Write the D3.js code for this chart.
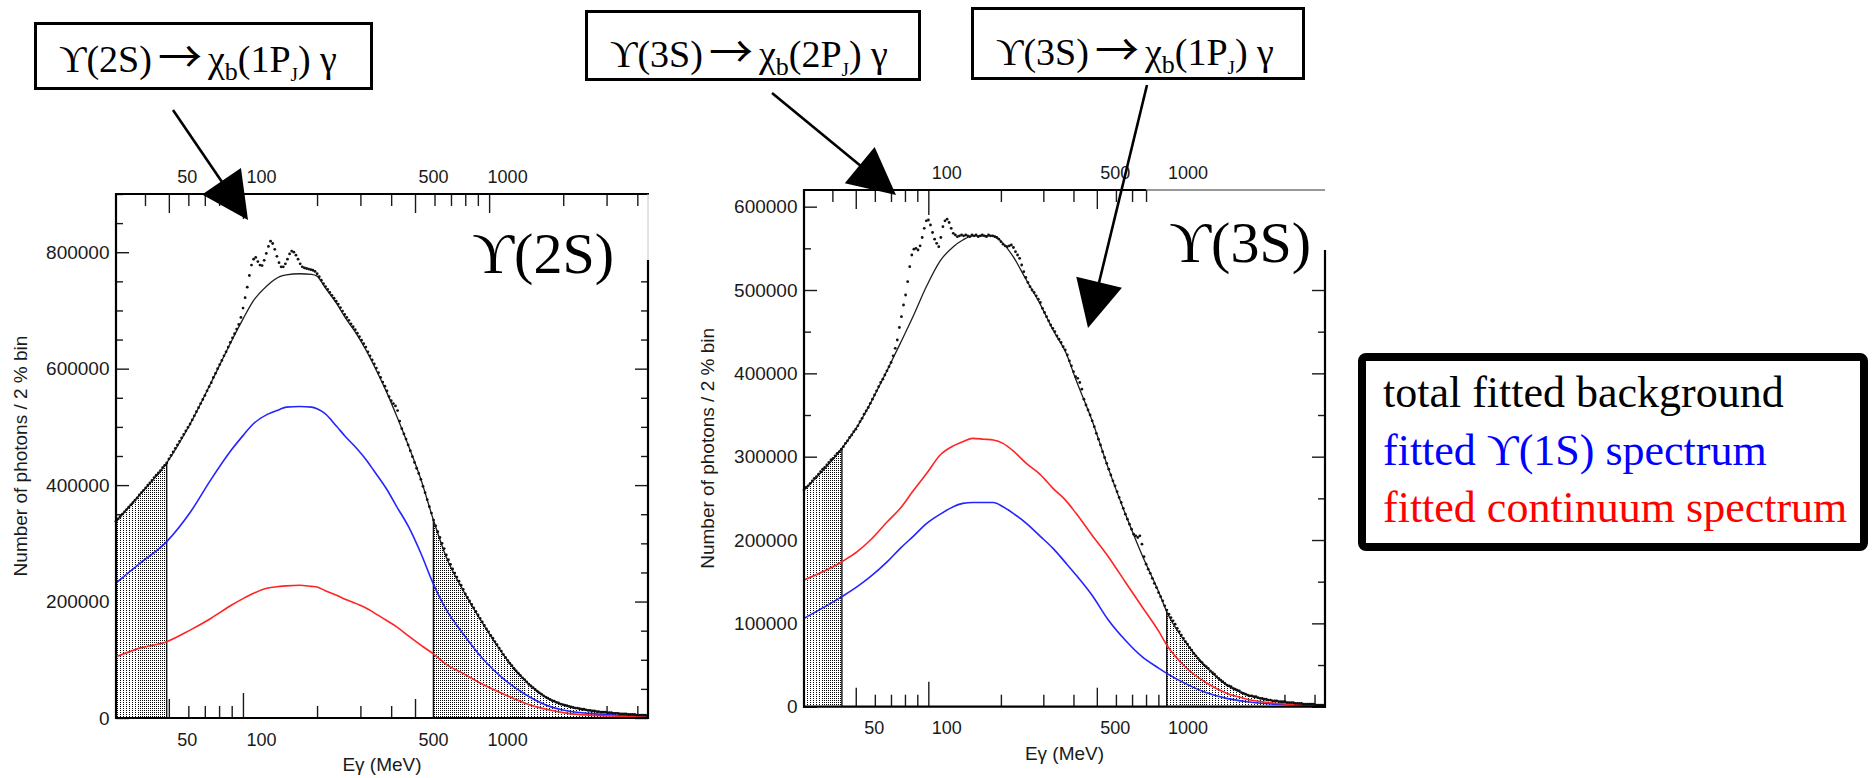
<!DOCTYPE html>
<html>
<head>
<meta charset="utf-8">
<title>Inclusive photon spectra</title>
<script src="https://cdn.jsdelivr.net/npm/d3@7/dist/d3.min.js"></script>
<style>
  html, body { margin: 0; padding: 0; background: #fff; }
  svg { display: block; }
</style>
</head>
<body>
<svg id="chart" width="1872" height="778"></svg>
<script>
// Photon energies in MeV; counts in thousands of photons per 2 % bin.

// ---- ϒ(2S) panel: fitted background components ----
const energy2S = [30.5, 38, 49, 61, 74, 90, 100, 110, 125, 141, 150, 170, 190, 200, 215, 240, 260, 290, 316, 340,
                  385, 420, 470, 528, 594, 670, 780, 950, 1160, 1410, 1710, 2090, 2540, 3090, 3700, 4420];
const total2S  = [338, 383, 438, 505, 575, 648, 685, 716, 742, 758, 761, 763, 762, 759, 740, 712, 688, 659, 632, 606,
                  558, 520, 468, 410, 340, 276, 221, 160, 105, 63, 35, 20, 13, 9, 6.5, 4.5];
const ups1S2S  = [232, 265, 303, 353, 409, 461, 485, 505, 521, 530, 534, 535, 534, 531, 523, 501, 484, 463, 444, 425,
                  392, 364, 329, 283, 230, 186, 146, 100, 65, 40, 22, 12, 8, 5.5, 4, 3];
const cont2S   = [105, 120, 131, 151, 171, 194, 205, 214, 223, 226, 227, 228, 226, 225, 219, 211, 204, 196, 189, 181,
                  167, 157, 141, 125, 110, 92, 77, 57, 40, 25, 15, 8, 5, 3.4, 2.2, 1.2];
// measured spectrum, one value per 2 % bin
const data2S = [
  338, 342, 346, 350, 354, 358, 362, 366, 370, 374,
  378, 383, 387, 391, 395, 400, 404, 408, 413, 417,
  421, 425, 430, 434, 438, 445, 451, 457, 463, 469,
  475, 481, 487, 493, 499, 505, 512, 519, 526, 533,
  540, 547, 554, 562, 569, 576, 585, 592, 600, 607,
  614, 622, 629, 637, 645, 653, 660, 668, 676, 688,
  704, 722, 740, 760, 778, 788, 791, 784, 778, 777,
  786, 798, 810, 819, 815, 805, 793, 782, 775, 775,
  780, 788, 797, 802, 800, 795, 788, 780, 775, 773,
  772, 771, 770, 769, 767, 763, 758, 752, 746, 741,
  736, 731, 726, 721, 716, 711, 705, 699, 693, 688,
  683, 677, 672, 667, 661, 655, 649, 643, 637, 629,
  622, 615, 608, 601, 593, 585, 577, 570, 562, 552,
  545, 540, 536, 528, 510, 497, 488, 479, 469, 459,
  449, 439, 429, 420, 410, 398, 387, 375, 363, 352,
  340, 330, 320, 310, 300, 291, 280, 272, 264, 256,
  249, 242, 235, 228, 221, 213, 207, 201, 195, 189,
  183, 177, 171, 165, 159, 153, 148, 142, 137, 131,
  126, 120, 115, 109, 104, 99, 94, 90, 85, 81,
  77, 73, 69, 66, 62, 58, 55, 52, 49, 46,
  43, 41, 38, 36, 34, 32, 30, 29, 27, 26,
  24, 23, 22, 21, 20, 19, 18, 17, 17, 16,
  15, 15, 14, 13, 13, 12, 12, 11, 11, 10,
  10, 10, 9, 9, 9, 8, 8, 8, 7, 7,
  7, 7, 6, 6, 6, 6, 5, 5, 5, 5,
  5, 4
];
const shade2S      = [[30.5, 49], [594, 4420]];
const denseShade2S = [[37.8, 49], [594, 817], [1205, 1410]];

// ---- ϒ(3S) panel ----
const energy3S = [30.5, 43.8, 50.7, 57.5, 67.6, 76.5, 87, 98.5, 112, 127, 139, 153, 170, 186, 204, 225, 255, 290, 329, 373,
                  410, 477, 558, 655, 770, 905, 975, 1162, 1417, 1727, 2106, 2567, 3128, 3700, 4420];
const total3S  = [260, 310, 336, 364, 404, 436, 470, 505, 535, 552, 560, 565, 565, 565, 556, 540, 512, 484, 452, 424,
                  392, 344, 286, 232, 182, 137, 114, 78, 48, 26, 14, 8, 5, 3, 2];
const ups1S3S  = [106, 132, 144, 156, 174, 190, 205, 220, 231, 240, 244, 245, 245, 245, 240, 232, 220, 205, 190, 172,
                  158, 134, 104, 80, 60, 46, 40, 28, 17, 10, 6, 3.5, 2.5, 1.8, 1.2];
const cont3S   = [152, 174, 186, 200, 222, 238, 260, 280, 302, 313, 318, 322, 321, 320, 316, 307, 292, 279, 262, 247,
                  232, 206, 180, 150, 120, 90, 74, 48, 29, 16, 9, 5, 3, 2, 1.5];
const data3S = [
  260, 263, 265, 268, 271, 274, 276, 279, 282, 285,
  287, 290, 293, 296, 298, 301, 304, 306, 309, 312,
  316, 319, 323, 326, 330, 333, 337, 342, 346, 351,
  355, 359, 364, 369, 374, 379, 384, 389, 393, 398,
  403, 408, 413, 421, 430, 440, 455, 468, 482, 494,
  510, 528, 542, 549, 550, 548, 553, 563, 574, 583,
  584, 578, 569, 561, 556, 552, 563, 576, 583, 585,
  581, 574, 568, 566, 564, 565, 566, 565, 566, 565,
  564, 566, 565, 566, 564, 565, 566, 565, 564, 566,
  565, 565, 564, 563, 561, 558, 555, 553, 552, 553,
  554, 551, 546, 542, 538, 530, 522, 515, 509, 504,
  500, 497, 493, 489, 485, 478, 473, 468, 463, 458,
  454, 450, 445, 441, 437, 432, 428, 422, 415, 409,
  402, 396, 394, 389, 381, 369, 362, 356, 350, 343,
  336, 328, 321, 314, 306, 299, 292, 285, 278, 271,
  265, 258, 251, 245, 238, 231, 225, 219, 213, 207,
  205, 203, 205, 195, 180, 171, 165, 160, 154, 148,
  143, 137, 132, 127, 121, 116, 111, 107, 103, 99,
  94, 90, 86, 82, 78, 75, 71, 68, 64, 61,
  58, 55, 53, 50, 48, 46, 43, 41, 39, 36,
  34, 32, 30, 28, 26, 25, 24, 22, 21, 20,
  19, 17, 16, 15, 14, 13, 13, 12, 12, 11,
  10, 10, 9, 9, 8, 8, 7, 7, 7, 6,
  6, 6, 6, 5, 5, 5, 5, 4, 4, 4,
  4, 3, 3, 3, 3, 3, 3, 2, 2, 2,
  2, 2
];
const shade3S      = [[30.5, 43.8], [975, 4420]];
const denseShade3S = [[36.6, 43.8], [1100, 1415]];

// ---- binning and axes ----
const firstBinE   = 30.5;   // MeV, centre of the first 2 % bin
const binRatio    = 1.02;
const energyRange = [30.5, 4420];
const xTickValues  = [40, 50, 60, 70, 80, 90, 100, 200, 300, 400, 500, 600, 700, 800, 900, 1000, 2000, 3000, 4000];
const xLabelValues = [50, 100, 500, 1000];
const legendItems  = ["total fitted background", "fitted ϒ(1S) spectrum", "fitted continuum spectrum"];
const legendColors = ["#000000", "#0000ff", "#ff0000"];

const K = 1000;
const sans  = "'Liberation Sans', Arial, Helvetica, sans-serif";
const serif = "'Liberation Serif', 'Times New Roman', 'DejaVu Serif', serif";
const svg  = d3.select("#chart");
const defs = svg.append("defs");

function stipple(id, w, h) {
  const pat = defs.append("pattern").attr("id", id)
    .attr("patternUnits", "userSpaceOnUse").attr("width", w).attr("height", h);
  pat.append("rect").attr("width", w).attr("height", h).attr("fill", "#fff");
  pat.append("rect").attr("width", 1).attr("height", 1).attr("fill", "#000");
}
stipple("stipple-sparse", 3, 2);
stipple("stipple-dense", 2, 2);

const tickLength = e => e === 100 ? 25 : (e === 50 || e === 500 || e === 1000) ? 19 : 12;

function drawPanel(p) {
  const x = d3.scaleLog().domain(energyRange).range([p.x0, p.x1]);
  const y = d3.scaleLinear().domain([0, p.yMax]).range([p.y1, p.y0]);
  const g = svg.append("g");
  const pts = vals => p.energy.map((e, i) => [e, vals[i] * K]);
  const line = d3.line().x(d => x(d[0])).y(d => y(d[1])).curve(d3.curveMonotoneX);
  const area = d3.area().x(d => x(d[0])).y0(y(0)).y1(d => y(d[1])).curve(d3.curveMonotoneX);
  const labelText = d => xLabelValues.includes(d) ? d : "";

  // bottom axis: ticks point inwards, labels sit right of their ticks
  const bottom = g.append("g").attr("transform", `translate(0,${p.y1})`)
    .call(d3.axisBottom(x).tickValues(xTickValues).tickSizeOuter(0).tickFormat(labelText));
  bottom.select(".domain").remove();
  bottom.attr("font-family", sans).attr("font-size", 18).style("color", "#1a1a1a");
  bottom.selectAll(".tick line").attr("y2", d => -tickLength(d)).attr("stroke-width", 1.4);
  bottom.selectAll(".tick text").attr("y", 27.5).attr("dy", null).attr("dx", 18);

  // top axis
  const top = g.append("g").attr("transform", `translate(0,${p.y0})`)
    .call(d3.axisTop(x).tickValues(xTickValues).tickSizeOuter(0).tickFormat(labelText));
  top.select(".domain").remove();
  top.attr("font-family", sans).attr("font-size", 18).style("color", "#1a1a1a");
  top.selectAll(".tick line").attr("y2", d => d <= p.topTickMax ? tickLength(d) : 0).attr("stroke-width", 1.4);
  top.selectAll(".tick text").attr("y", -11).attr("dx", 18);

  // left and right axes
  const yTicks = d3.range(0, p.yMax + 1, 50000);
  const isMajor = v => v % p.yLabelStep === 0;
  const left = g.append("g").attr("transform", `translate(${p.x0},0)`)
    .call(d3.axisLeft(y).tickValues(yTicks).tickSizeOuter(0).tickFormat(v => isMajor(v) ? d3.format("d")(v) : ""));
  left.select(".domain").remove();
  left.attr("font-family", sans).attr("font-size", 19).style("color", "#1a1a1a");
  left.selectAll(".tick line").attr("x2", v => isMajor(v) ? 13 : 7).attr("stroke-width", 1.4);
  left.selectAll(".tick text").attr("x", -6.5);

  const right = g.append("g").attr("transform", `translate(${p.x1},0)`)
    .call(d3.axisRight(y).tickValues(yTicks.filter(v => y(v) > p.rightTop + 1)).tickSizeOuter(0).tickFormat(""));
  right.select(".domain").remove();
  right.style("color", "#1a1a1a");
  right.selectAll(".tick line").attr("x2", v => isMajor(v) ? -13 : -7).attr("stroke-width", 1.4);

  // stippled side-band regions under the fitted background
  const clipId = "under-" + p.id;
  defs.append("clipPath").attr("id", clipId).append("path").attr("d", area(pts(p.total)));
  const shade = g.append("g").attr("clip-path", `url(#${clipId})`);
  const band = (a, b, fill) => shade.append("rect")
    .attr("x", x(a)).attr("y", p.y0).attr("width", x(b) - x(a)).attr("height", p.y1 - p.y0).attr("fill", fill);
  p.shade.forEach(([a, b]) => band(a, b, "url(#stipple-sparse)"));
  p.dense.forEach(([a, b]) => band(a, b, "url(#stipple-dense)"));
  p.shade.forEach(([a, b]) => [a, b].forEach(e => {
    if (e > energyRange[0] && e < energyRange[1]) {
      shade.append("line").attr("x1", x(e)).attr("x2", x(e)).attr("y1", p.y0).attr("y2", p.y1)
        .attr("stroke", "#111").attr("stroke-width", 1.4);
    }
  }));

  // fitted components
  const curves = g.append("g").attr("fill", "none");
  [[p.ups1S, "#2424ff"], [p.cont, "#ff2424"]].forEach(([vals, col]) => {
    curves.append("line").attr("x1", x(p.energy[0])).attr("x2", x(p.energy[0]))
      .attr("y1", y(0)).attr("y2", y(vals[0] * K)).attr("stroke", col).attr("stroke-width", 1.6);
    curves.append("path").attr("d", line(pts(vals))).attr("stroke", col).attr("stroke-width", 1.6);
  });
  curves.append("path").attr("d", line(pts(p.total))).attr("stroke", "#1e1e1e").attr("stroke-width", 1.3);

  // measured spectrum
  g.append("g").selectAll("circle").data(p.data).join("circle")
    .attr("cx", (d, i) => x(firstBinE * Math.pow(binRatio, i)))
    .attr("cy", d => y(d * K))
    .attr("r", 1.4).attr("fill", "#111");

  // frame
  const frame = g.append("g").attr("stroke", "#000").attr("stroke-width", 2.2);
  const topEnd = x(Math.min(p.topTickMax, energyRange[1]));
  frame.append("line").attr("x1", p.x0).attr("x2", p.x0).attr("y1", p.y0 - 1).attr("y2", p.y1 + 1);
  frame.append("line").attr("x1", p.x0 - 1).attr("x2", p.x1 + 1).attr("y1", p.y1).attr("y2", p.y1);
  frame.append("line").attr("x1", p.x0 - 1).attr("x2", p.topTickMax >= 4000 ? p.x1 + 1 : topEnd).attr("y1", p.y0).attr("y2", p.y0);
  frame.append("line").attr("x1", p.x1).attr("x2", p.x1).attr("y1", p.rightTop).attr("y2", p.y1 + 1);
  if (p.topTickMax < 4000) {
    g.append("line").attr("x1", topEnd).attr("x2", p.x1).attr("y1", p.y0).attr("y2", p.y0)
      .attr("stroke", "#333").attr("stroke-width", 1);
  } else {
    g.append("line").attr("x1", p.x1).attr("x2", p.x1).attr("y1", p.y0).attr("y2", p.rightTop)
      .attr("stroke", "#c8c8c8").attr("stroke-width", 1);
  }

  // axis titles
  g.append("text").attr("x", (p.x0 + p.x1) / 2).attr("y", p.y1 + 53)
    .attr("text-anchor", "middle").attr("font-family", sans).attr("font-size", 19).attr("fill", "#1a1a1a")
    .text("Eγ (MeV)");
  g.append("text")
    .attr("transform", `translate(${p.titleX},${(p.y0 + p.y1) / 2}) rotate(-90)`)
    .attr("text-anchor", "middle").attr("font-family", sans).attr("font-size", 19).attr("fill", "#1a1a1a")
    .text("Number of photons / 2 % bin");

  // panel name
  g.append("text").attr("x", p.labelX).attr("y", p.labelY).attr("text-anchor", "end")
    .attr("font-family", serif).attr("font-size", 58).attr("fill", "#000").text(p.label);
}

drawPanel({
  id: "2S", x0: 116, x1: 648, y0: 194, y1: 718, yMax: 900000, yLabelStep: 200000,
  rightTop: 260, topTickMax: 4000, titleX: 27,
  energy: energy2S, total: total2S, ups1S: ups1S2S, cont: cont2S, data: data2S,
  shade: shade2S, dense: denseShade2S, label: "ϒ(2S)", labelX: 614, labelY: 273
});
drawPanel({
  id: "3S", x0: 804, x1: 1325, y0: 190, y1: 706.7, yMax: 620000, yLabelStep: 100000,
  rightTop: 250, topTickMax: 800, titleX: 714,
  energy: energy3S, total: total3S, ups1S: ups1S3S, cont: cont3S, data: data3S,
  shade: shade3S, dense: denseShade3S, label: "ϒ(3S)", labelX: 1311, labelY: 262
});

// transition boxes
function transitionBox(bx, by, bw, bh, tx, ty, parent, level) {
  svg.append("rect").attr("x", bx).attr("y", by).attr("width", bw).attr("height", bh)
    .attr("fill", "#fff").attr("stroke", "#000").attr("stroke-width", 3);
  const t = svg.append("text").attr("x", tx).attr("y", ty)
    .attr("font-family", serif).attr("font-size", 38).attr("fill", "#000");
  t.append("tspan").text(`ϒ(${parent})`);
  t.append("tspan").attr("dx", 6).attr("dy", 1)
    .attr("font-family", "'Noto Sans CJK JP', 'DejaVu Serif', serif").attr("font-size", 44).text("→");
  t.append("tspan").attr("dx", 6).attr("dy", -1).text("χ");
  t.append("tspan").attr("font-size", 26).attr("dy", 8).text("b");
  t.append("tspan").attr("dy", -8).text(`(${level}P`);
  t.append("tspan").attr("font-size", 19).attr("dy", 9).text("J");
  t.append("tspan").attr("dy", -9).text(") γ");
}
transitionBox(35.5, 23.5, 336, 65, 59, 72, "2S", 1);
transitionBox(586.5, 11.5, 333, 68, 610, 67, "3S", 2);
transitionBox(972.5, 8.5, 331, 70, 996, 65, "3S", 1);

// arrows from the boxes to the peaks
function arrow(x1, y1, x2, y2) {
  const len = 47, half = 23.5;
  const L = Math.hypot(x2 - x1, y2 - y1), ux = (x2 - x1) / L, uy = (y2 - y1) / L;
  const bx = x2 - ux * len, by = y2 - uy * len;
  svg.append("line").attr("x1", x1).attr("y1", y1).attr("x2", bx + ux * 3).attr("y2", by + uy * 3)
    .attr("stroke", "#000").attr("stroke-width", 2.6);
  svg.append("path")
    .attr("d", `M${x2},${y2}L${bx - uy * half},${by + ux * half}L${bx + uy * half},${by - ux * half}Z`)
    .attr("fill", "#000");
}
arrow(173, 110, 248, 220);
arrow(772, 93, 896, 195);
arrow(1147, 85, 1088, 328);

// legend
svg.append("rect").attr("x", 1362).attr("y", 357).attr("width", 502).attr("height", 190).attr("rx", 4)
  .attr("fill", "#fff").attr("stroke", "#000").attr("stroke-width", 8);
svg.append("g").selectAll("text").data(legendItems).join("text")
  .attr("x", 1383).attr("y", (d, i) => 407 + i * 57.5)
  .attr("font-family", serif).attr("font-size", 44)
  .attr("fill", (d, i) => legendColors[i])
  .text(d => d);
</script>
</body>
</html>
